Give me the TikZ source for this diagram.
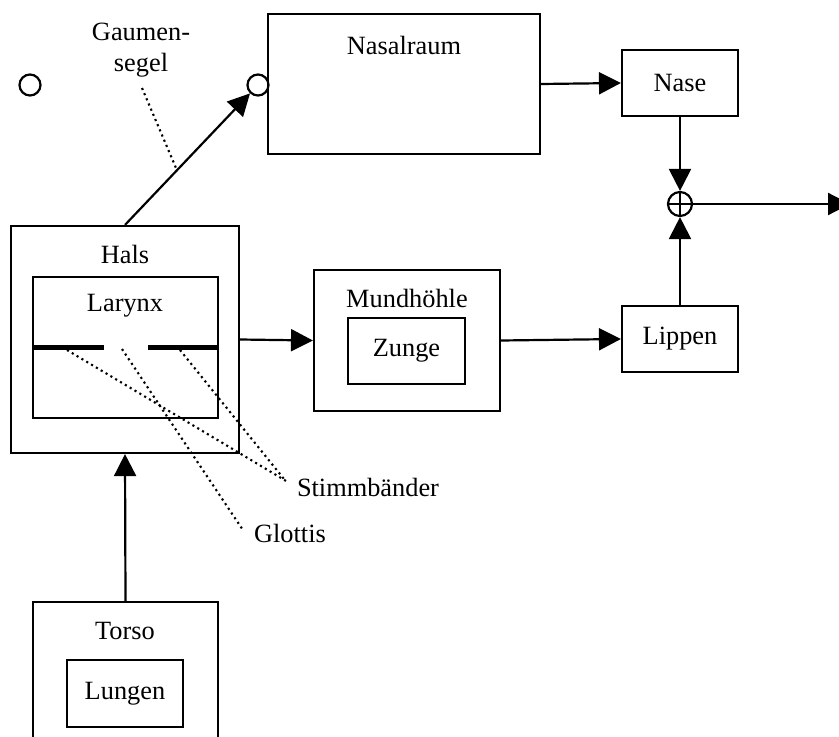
\documentclass[tikz,border=0pt]{standalone}
\usepackage{fontspec}
\setmainfont{Liberation Serif}
\usetikzlibrary{arrows.meta,positioning}

\begin{document}
\begin{tikzpicture}[x=0.02cm, y=-0.02cm,
    every node/.style={font=\fontsize{15}{18}\selectfont},
    box/.style={draw, line width=1.25pt, inner sep=0pt},
    ring/.style={draw, circle, line width=1.25pt, minimum size=0.42cm, inner sep=0pt},
    flow/.style={line width=1.25pt, -{Triangle[length=12.5pt, width=12.5pt]}},
    pointer/.style={line width=1.2pt, dotted},
    bar/.style={line width=3pt}]
    \useasboundingbox (0,0) rectangle (839,737);

    % Nasal tract
    \node[box, minimum width=5.44cm, minimum height=2.8cm] (nasal) at (404,84) {};
    \node at (404,45) {Nasalraum};
    \node[box, minimum width=2.32cm, minimum height=1.32cm] (nase) at (680,83) {Nase};
    \node[ring] (velum) at (258,85) {};
    \node[ring] (velumopen) at (30,85) {};

    % Throat with larynx
    \node[box, minimum width=4.56cm, minimum height=4.54cm] (hals) at (125,339.5) {};
    \node at (125,254) {Hals};
    \node[box, minimum width=3.7cm, minimum height=2.82cm] (larynx) at (125.5,347.5) {};
    \node at (125,306) {Larynx};
    \draw[bar] (larynx.west) -- ++(72,0);
    \draw[bar] (larynx.east) -- ++(-71,0);

    % Oral tract
    \node[box, minimum width=3.72cm, minimum height=2.82cm] (mund) at (407,340.5) {};
    \node at (407,298) {Mundhöhle};
    \node[box, minimum width=2.34cm, minimum height=1.32cm] (zunge) at (406.5,351) {Zunge};
    \node[box, minimum width=2.32cm, minimum height=1.32cm] (lippen) at (680,339) {Lippen};

    % Summation
    \node[draw, circle, line width=1.25pt, minimum size=0.48cm, inner sep=0pt] (sum) at (680,204) {};
    \draw[line width=1.1pt] (sum.north) -- (sum.south) (sum.west) -- (sum.east);
    \coordinate (out) at (850,204);

    % Torso with lungs
    \node[box, minimum width=3.7cm, minimum height=2.82cm] (torso) at (125.5,672.5) {};
    \node at (125,631) {Torso};
    \node[box, minimum width=2.32cm, minimum height=1.34cm] (lungen) at (125,693.5) {Lungen};

    % Signal flow
    \draw[flow] (torso.north) -- (hals.south);
    \draw[flow] (hals.north) -- (velum);
    \draw[flow] (hals.east) -- (mund.west);
    \draw[flow] (nasal.east) -- (nase.west);
    \draw[flow] (mund.east) -- (lippen.west);
    \draw[flow] (nase.south) -- (sum.north);
    \draw[flow] (lippen.north) -- (sum.south);
    \draw[flow] (sum.east) -- (out);

    % Labels with pointers
    \node[align=center] (segel) at (141,50) {Gaumen-\\segel};
    \coordinate (segeltip) at (176,168);
    \draw[pointer] (142,88) -- (segeltip);
    \node (stimm) at (368,487) {Stimmbänder};
    \node (glottis) at (290,533) {Glottis};
    \coordinate (bandleft) at (67,350);
    \coordinate (bandright) at (180,350);
    \coordinate (gap) at (122,349);
    \draw[pointer] (bandleft) -- ([xshift=-0.06cm, yshift=0.1cm]stimm.west);
    \draw[pointer] (bandright) -- ([xshift=-0.12cm, yshift=0.14cm]stimm.west);
    \draw[pointer] (gap) -- ([xshift=-0.1cm, yshift=0.06cm]glottis.west);
\end{tikzpicture}
\end{document}
